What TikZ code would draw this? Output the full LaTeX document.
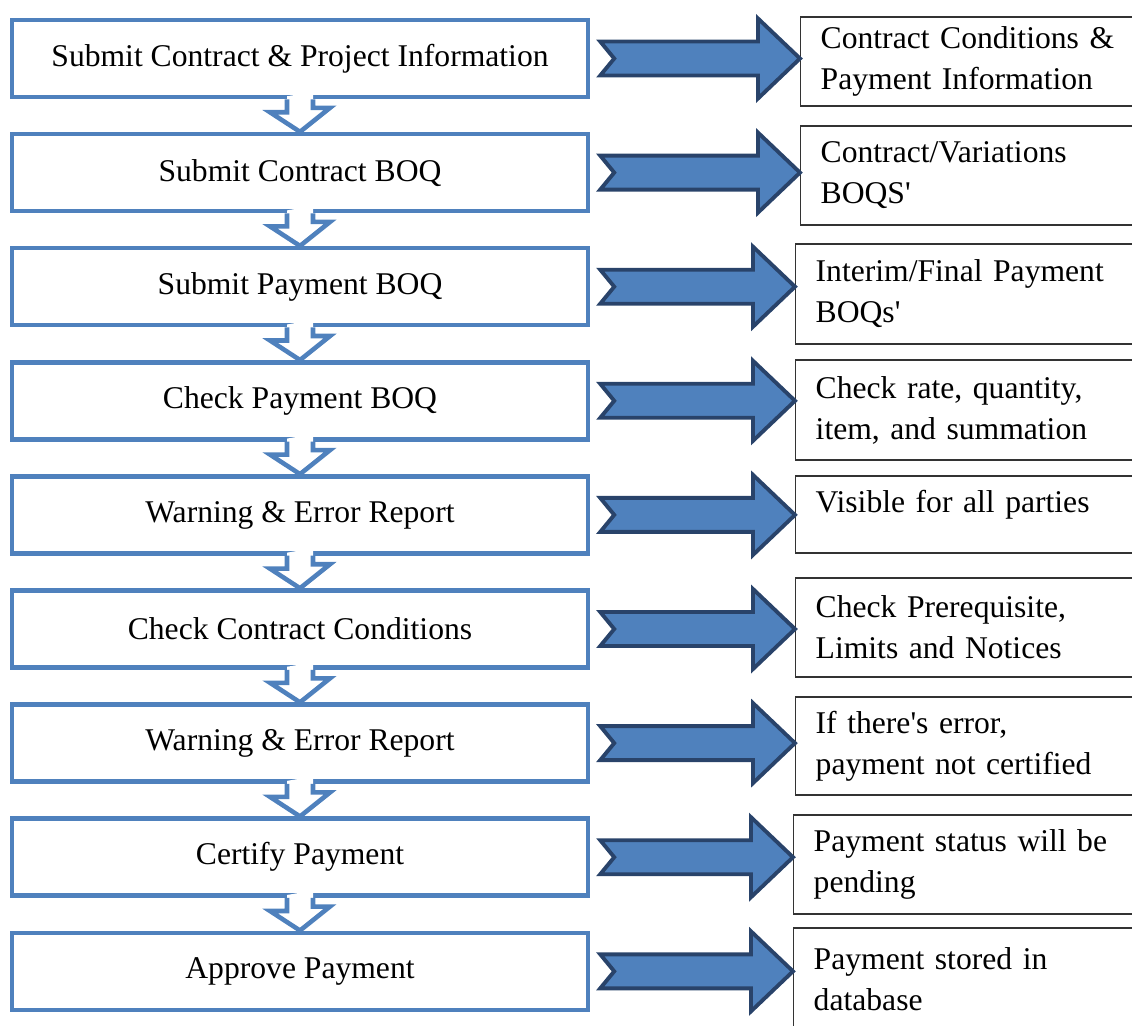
\documentclass[tikz,border=0pt]{standalone}
\usepackage{fontspec}
\setmainfont{Liberation Serif}
\usetikzlibrary{calc}
\definecolor{flowblue}{HTML}{4F81BD}
\definecolor{arrowedge}{HTML}{29436A}

\tikzset{
  stepbox/.style={draw=flowblue, line width=2.6pt, minimum width=11.52cm, minimum height=1.54cm, inner sep=0pt, font=\fontsize{18pt}{22pt}\selectfont},
  notebox/.style={draw=black!80, line width=0.8pt, anchor=west, minimum width=7.2cm, text width=6.4cm, inner xsep=0.4cm, inner ysep=0pt, align=left, font=\fontsize{18pt}{23.3pt}\selectfont},
  bigarrow/.style={fill=flowblue, draw=arrowedge, line width=2.2pt, line join=miter},
  downarrow/.style={draw=flowblue, line width=2.6pt, line join=miter}
}

% block arrow from a step to its note
\newcommand{\sidearrow}[2]{%
  \draw[bigarrow] ($(#1.east)+(10,-17)$) -- ($(#2.west |- #1.east)+(-42,-17)$) -- ++(0,-23) -- (#2.west |- #1.east) -- ++(-42,40) -- ++(0,-23) -- ($(#1.east)+(10,17)$) -- ++(14,-17) -- cycle;}
% hollow arrow between two steps
\newcommand{\flowdown}[2]{%
  \fill[white] ($(#1.south)+(-13,-3)$) -- ++(0,16) -- ++(-17,0) -- (#2.north) -- ++(30,-24) -- ++(-17,0) -- ++(0,-16) -- cycle;
  \draw[downarrow] ($(#1.south)+(-13,0)$) -- ++(0,13) -- ++(-17,0) -- (#2.north) -- ++(30,-24) -- ++(-17,0) -- ($(#1.south)+(13,0)$);}

\begin{document}
\begin{tikzpicture}[x=0.02cm,y=-0.02cm]
\useasboundingbox (0,0) rectangle (1132,1025);

% steps
\node[stepbox] (submitinfo) at (300,58.5) {Submit Contract \& Project Information};
\node[stepbox] (submitboq) at (300,172.6) {Submit Contract BOQ};
\node[stepbox] (paymentboq) at (300,286.7) {Submit Payment BOQ};
\node[stepbox] (checkboq) at (300,400.8) {Check Payment BOQ};
\node[stepbox] (reportone) at (300,514.9) {Warning \& Error Report};
\node[stepbox] (checkcond) at (300,629) {Check Contract Conditions};
\node[stepbox] (reporttwo) at (300,743.1) {Warning \& Error Report};
\node[stepbox] (certify) at (300,857.2) {Certify Payment};
\node[stepbox] (approve) at (300,971.3) {Approve Payment};

% notes
\node[notebox, minimum height=1.78cm] (noteinfo) at (800,61.5) {Contract Conditions \&\\Payment Information};
\node[notebox, minimum height=1.98cm] (noteboq) at (800,175.5) {Contract/Variations\\BOQS\textquotesingle};
\node[notebox, minimum height=2cm] (notepay) at (795,294) {Interim/Final Payment\\BOQs\textquotesingle};
\node[notebox, minimum height=2cm] (notecheck) at (795,410) {Check rate, quantity,\\item, and summation};
\node[notebox, minimum height=1.54cm, text depth=0.54cm] (notevisible) at (795,514.5) {Visible for all parties};
\node[notebox, minimum height=1.98cm] (notecond) at (795,627.5) {Check Prerequisite,\\Limits and Notices};
\node[notebox, minimum height=1.96cm] (noteerror) at (795,746) {If there\textquotesingle s error,\\payment not certified};
\node[notebox, minimum height=1.98cm] (notepending) at (793,864.5) {Payment status will be\\pending};
\node[notebox, minimum height=2.04cm] (notestored) at (793,979) {Payment stored in\\database};

% flow between steps
\flowdown{submitinfo}{submitboq}
\flowdown{submitboq}{paymentboq}
\flowdown{paymentboq}{checkboq}
\flowdown{checkboq}{reportone}
\flowdown{reportone}{checkcond}
\flowdown{checkcond}{reporttwo}
\flowdown{reporttwo}{certify}
\flowdown{certify}{approve}

% steps to notes
\sidearrow{submitinfo}{noteinfo}
\sidearrow{submitboq}{noteboq}
\sidearrow{paymentboq}{notepay}
\sidearrow{checkboq}{notecheck}
\sidearrow{reportone}{notevisible}
\sidearrow{checkcond}{notecond}
\sidearrow{reporttwo}{noteerror}
\sidearrow{certify}{notepending}
\sidearrow{approve}{notestored}
\end{tikzpicture}
\end{document}
